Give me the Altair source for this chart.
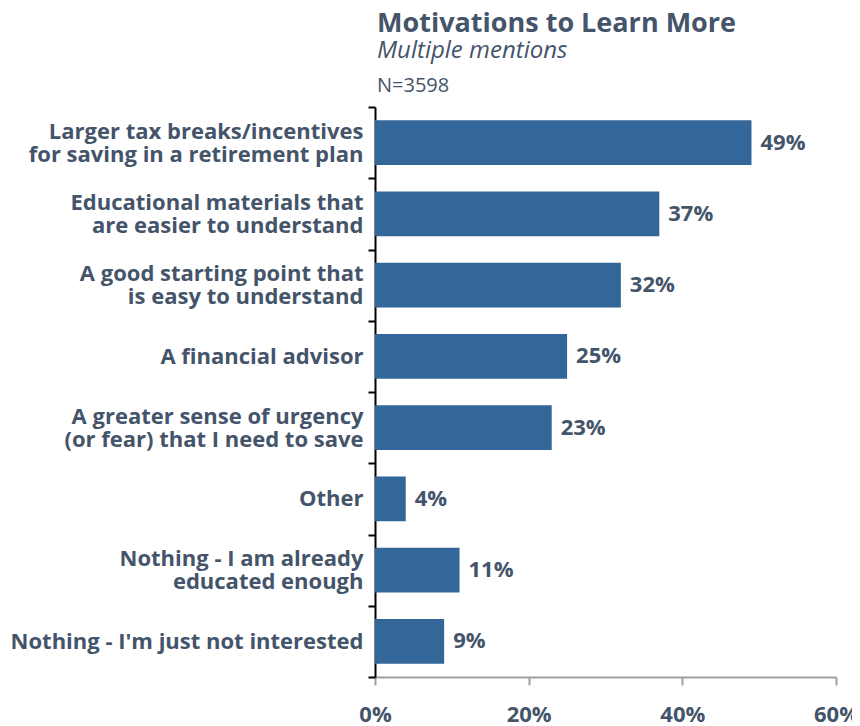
import altair as alt
import pandas as pd

categories = [
    "Larger tax breaks/incentives\nfor saving in a retirement plan",
    "Educational materials that\nare easier to understand",
    "A good starting point that\nis easy to understand",
    "A financial advisor",
    "A greater sense of urgency\n(or fear) that I need to save",
    "Other",
    "Nothing - I am already\neducated enough",
    "Nothing - I'm just not interested",
]
values = [49, 37, 32, 25, 23, 4, 11, 9]
x_ticks = [0, 20, 40, 60]

df = pd.DataFrame({"cat": categories, "val": values})
df["lbl"] = df["val"].astype(str) + "%"

TXT = "#44546A"
FONT = "Open Sans"

y_enc = alt.Y(
    "cat:N",
    sort=categories,
    title=None,
    scale=alt.Scale(paddingInner=0, paddingOuter=0),
    axis=alt.Axis(
        labelExpr="datum.value ? split(datum.value, '\\n') : ''",
        labelFont=FONT,
        labelFontSize=22,
        labelFontWeight="bold",
        labelColor=TXT,
        labelLineHeight=23,
        labelPadding=5,
        labelLimit=400,
        labelOffset={
            "condition": {"test": "datum.value && indexof(datum.value, '\\n') >= 0", "value": -11.5},
            "value": 0,
        },
        tickBand="extent",
        tickColor="black",
        tickSize=7,
        tickWidth=2,
        domainColor="black",
        domainWidth=2,
    ),
)
x_enc = alt.X(
    "val:Q",
    title=None,
    scale=alt.Scale(domain=[0, 60], nice=False),
    axis=alt.Axis(
        values=x_ticks,
        labelExpr="datum.value + '%'",
        labelFont=FONT,
        labelFontSize=22,
        labelFontWeight="bold",
        labelColor=TXT,
        labelPadding=19,
        tickColor="#a0a0a0",
        tickSize=8,
        tickWidth=2,
        domainColor="#a0a0a0",
        domainWidth=2,
        grid=False,
        labelFlush=False,
    ),
)

base = alt.Chart(df)
bars = base.mark_bar(color="#336699", height={"band": 0.63}).encode(x=x_enc, y=y_enc)
texts = base.mark_text(
    align="left", baseline="middle", dx=9, font=FONT, fontSize=22,
    fontWeight="bold", color=TXT,
).encode(x="val:Q", y=alt.Y("cat:N", sort=categories), text="lbl:N")
ntext = alt.Chart(pd.DataFrame({"t": ["N=3598"]})).mark_text(
    align="left", baseline="alphabetic", font=FONT, fontSize=20, color=TXT,
).encode(x=alt.value(2), y=alt.value(-15), text="t:N")

chart = alt.layer(bars, texts, ntext).properties(
    width=461,
    height=570,
    autosize=alt.AutoSizeParams(type="none"),
    padding={"left": 367, "top": 99, "right": 16, "bottom": 49},
    title=alt.TitleParams(
        text="Motivations to Learn More",
        subtitle="Multiple mentions",
        anchor="start",
        frame="group",
        font=FONT,
        fontSize=27,
        fontWeight="bold",
        color=TXT,
        subtitleFont=FONT,
        subtitleFontSize=24,
        subtitleFontStyle="italic",
        subtitleColor=TXT,
        subtitlePadding=1,
        offset=12,
        dx=2,
    ),
).configure_view(stroke=None)

chart.save("out.html", embed_options={"renderer": "svg", "actions": False})
